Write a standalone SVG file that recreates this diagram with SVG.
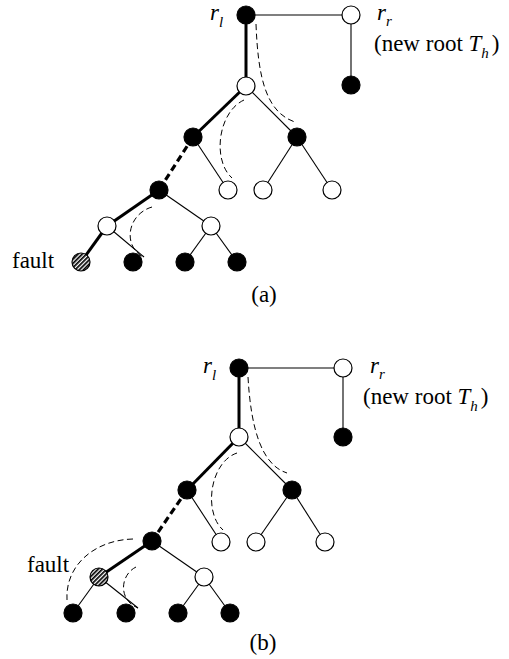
<svg xmlns="http://www.w3.org/2000/svg" width="509" height="659" viewBox="0 0 509 659">
<style>
.thin{stroke:#000;stroke-width:1.1;fill:none}
.thick{stroke:#000;stroke-width:3;fill:none}
.thickdash{stroke:#000;stroke-width:3.2;fill:none;stroke-dasharray:7 4}
.curve{stroke:#000;stroke-width:1;fill:none;stroke-dasharray:6 3.5}
.b{fill:#000;stroke:#000;stroke-width:1.2}
.w{fill:#fff;stroke:#000;stroke-width:1.2}
.f{fill:url(#hatch);stroke:#000;stroke-width:1.2}
text{font-family:"Liberation Serif","Times New Roman",serif;font-size:23px;fill:#000}
.it{font-style:italic}
.sub{font-size:15px;font-style:italic}
</style>
<defs>
<pattern id="hatch" width="3" height="3" patternUnits="userSpaceOnUse" patternTransform="rotate(45)">
<rect width="3" height="3" fill="#fff"/>
<rect width="1.7" height="3" fill="#000"/>
</pattern>
</defs>
<rect width="509" height="659" fill="#fff"/>
<g id="connectors">
<line class="thin" x1="246" y1="15" x2="351" y2="15"/>
<line class="thin" x1="351" y1="15" x2="351" y2="85"/>
<line class="thick" x1="246" y1="15" x2="246" y2="86"/>
<line class="thick" x1="246" y1="86" x2="193" y2="137"/>
<line class="thin" x1="246" y1="86" x2="297" y2="137"/>
<line class="thickdash" x1="193" y1="137" x2="159" y2="190"/>
<line class="thin" x1="193" y1="137" x2="228" y2="190"/>
<line class="thin" x1="297" y1="137" x2="263" y2="190"/>
<line class="thin" x1="297" y1="137" x2="332" y2="190"/>
<line class="thick" x1="159" y1="190" x2="107" y2="226"/>
<line class="thin" x1="159" y1="190" x2="211" y2="226"/>
<line class="thick" x1="107" y1="226" x2="81" y2="262"/>
<line class="thin" x1="107" y1="226" x2="144" y2="257"/>
<line class="thin" x1="211" y1="226" x2="185" y2="262"/>
<line class="thin" x1="211" y1="226" x2="237" y2="262"/>
<path class="curve" d="M256,24 C258,75 265,112 295,122"/>
<path class="curve" d="M244,100 C218,112 212,160 232,178"/>
<path class="curve" d="M152,207 C128,214 122,245 143,257"/>
<line class="thin" x1="239" y1="368" x2="343" y2="368"/>
<line class="thin" x1="343" y1="368" x2="343" y2="437"/>
<line class="thick" x1="239" y1="368" x2="239" y2="437"/>
<line class="thick" x1="239" y1="437" x2="187" y2="490"/>
<line class="thin" x1="239" y1="437" x2="292" y2="490"/>
<line class="thickdash" x1="187" y1="490" x2="152" y2="541"/>
<line class="thin" x1="187" y1="490" x2="221" y2="542"/>
<line class="thin" x1="292" y1="490" x2="256" y2="542"/>
<line class="thin" x1="292" y1="490" x2="325" y2="542"/>
<line class="thick" x1="152" y1="541" x2="99" y2="577"/>
<line class="thin" x1="152" y1="541" x2="204" y2="577"/>
<line class="thin" x1="99" y1="577" x2="73" y2="613"/>
<line class="thin" x1="99" y1="577" x2="138" y2="608"/>
<line class="thin" x1="204" y1="577" x2="178" y2="613"/>
<line class="thin" x1="204" y1="577" x2="230" y2="613"/>
<path class="curve" d="M248,377 C251,430 262,465 287,473"/>
<path class="curve" d="M237,453 C210,462 203,512 223,530"/>
<path class="curve" d="M133,539 C95,540 65,565 67,600"/>
<path class="curve" d="M136,567 C120,575 118,600 138,608"/>
</g>
<g id="a-rl"><circle class="b" cx="246" cy="15" r="9"/><text x="210" y="20" class="it">r<tspan class="sub" dy="7">l</tspan></text></g>
<g id="a-rr"><circle class="w" cx="351" cy="15" r="9"/><text x="377" y="20" class="it">r<tspan class="sub" dy="6">r</tspan></text><text x="374" y="51">(new root <tspan class="it">T</tspan><tspan class="sub" dy="7">h</tspan><tspan dy="-7" dx="3">)</tspan></text></g>
<g id="a-rr-c"><circle class="b" cx="351" cy="85" r="9"/></g>
<g id="a-n1"><circle class="w" cx="246" cy="86" r="9"/></g>
<g id="a-n2"><circle class="b" cx="193" cy="137" r="9"/></g>
<g id="a-n3"><circle class="b" cx="297" cy="137" r="9"/></g>
<g id="a-n4"><circle class="b" cx="159" cy="190" r="9"/></g>
<g id="a-n5"><circle class="w" cx="228" cy="190" r="9"/></g>
<g id="a-n6"><circle class="w" cx="263" cy="190" r="9"/></g>
<g id="a-n7"><circle class="w" cx="332" cy="190" r="9"/></g>
<g id="a-n8"><circle class="w" cx="107" cy="226" r="9"/></g>
<g id="a-n9"><circle class="w" cx="211" cy="226" r="9"/></g>
<g id="a-fault"><circle class="f" cx="81" cy="262" r="9"/><text x="12" y="268">fault</text></g>
<g id="a-n10"><circle class="b" cx="133" cy="262" r="9"/></g>
<g id="a-n11"><circle class="b" cx="185" cy="262" r="9"/></g>
<g id="a-n12"><circle class="b" cx="237" cy="262" r="9"/></g>
<text x="264" y="302" text-anchor="middle">(a)</text>
<g id="b-rl"><circle class="b" cx="239" cy="368" r="9"/><text x="203" y="373" class="it">r<tspan class="sub" dy="7">l</tspan></text></g>
<g id="b-rr"><circle class="w" cx="343" cy="368" r="9"/><text x="370" y="373" class="it">r<tspan class="sub" dy="6">r</tspan></text><text x="363" y="404">(new root <tspan class="it">T</tspan><tspan class="sub" dy="7">h</tspan><tspan dy="-7" dx="3">)</tspan></text></g>
<g id="b-rr-c"><circle class="b" cx="343" cy="437" r="9"/></g>
<g id="b-n1"><circle class="w" cx="239" cy="437" r="9"/></g>
<g id="b-n2"><circle class="b" cx="187" cy="490" r="9"/></g>
<g id="b-n3"><circle class="b" cx="292" cy="490" r="9"/></g>
<g id="b-n4"><circle class="b" cx="152" cy="541" r="9"/></g>
<g id="b-n5"><circle class="w" cx="221" cy="542" r="9"/></g>
<g id="b-n6"><circle class="w" cx="256" cy="542" r="9"/></g>
<g id="b-n7"><circle class="w" cx="325" cy="542" r="9"/></g>
<g id="b-fault"><circle class="f" cx="99" cy="577" r="9"/><text x="27" y="572">fault</text></g>
<g id="b-n8"><circle class="w" cx="204" cy="577" r="9"/></g>
<g id="b-n9"><circle class="b" cx="73" cy="613" r="9"/></g>
<g id="b-n10"><circle class="b" cx="126" cy="613" r="9"/></g>
<g id="b-n11"><circle class="b" cx="178" cy="613" r="9"/></g>
<g id="b-n12"><circle class="b" cx="230" cy="613" r="9"/></g>
<text x="263" y="650" text-anchor="middle">(b)</text>
</svg>
